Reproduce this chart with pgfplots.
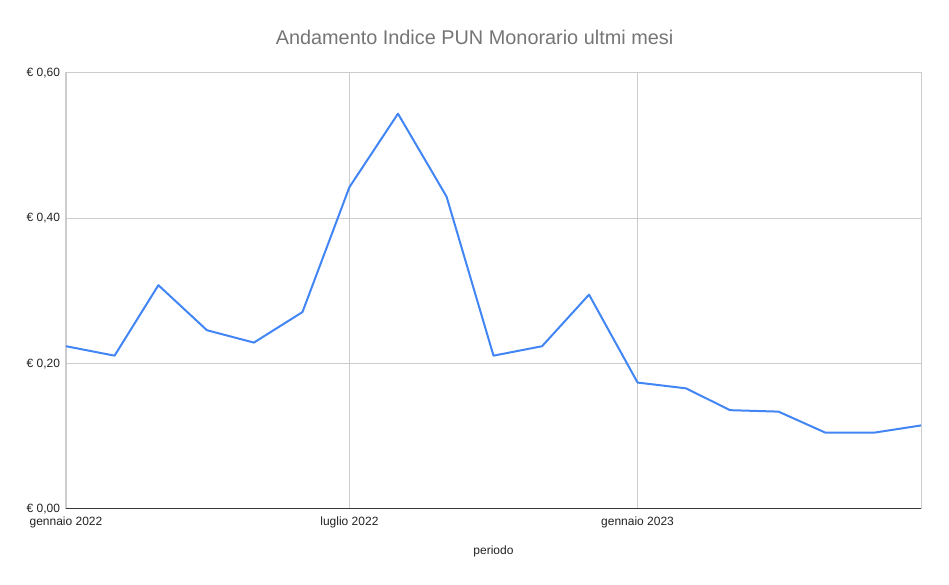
\documentclass[border=0pt]{standalone}
\usepackage{fontspec}
\setmainfont{Liberation Sans}
\usepackage{pgfplots}
\pgfplotsset{compat=1.18}
\definecolor{linecol}{HTML}{4285F4}
\definecolor{gridcol}{HTML}{CCCCCC}
\definecolor{titlecol}{HTML}{757575}
\definecolor{txtcol}{HTML}{222222}
\begin{document}
\begin{tikzpicture}
\path[use as bounding box] (-49.5pt,-57pt) rectangle ++(711.75pt,438.75pt);
\begin{axis}[
  at={(0,0)}, anchor=south west,
  scale only axis,
  width=641.25pt, height=327pt,
  xmin=0, xmax=546, ymin=0, ymax=0.6,
  xtick={0,181,365},
  xticklabels={gennaio 2022,luglio 2022,gennaio 2023},
  ytick={0,0.2,0.4,0.6},
  yticklabels={€ 0{,}00,€ 0{,}20,€ 0{,}40,€ 0{,}60},
  major tick length=0pt,
  grid=major,
  major grid style={gridcol, line width=0.75pt},
  axis line style={gridcol, line width=0.75pt},
  tick label style={font=\fontsize{9}{10}\selectfont, text=txtcol},
  xticklabel style={yshift=-2pt},
  yticklabel style={xshift=-1pt},
  xlabel={periodo},
  xlabel style={font=\fontsize{9}{10}\selectfont, text=txtcol, at={(0.5,0)}, anchor=center, yshift=-31.5pt},
  title={Andamento Indice PUN Monorario ultmi mesi},
  title style={font=\fontsize{14.9}{16}\selectfont, text=titlecol, at={(0.4778,1)}, anchor=center, yshift=21pt},
  clip=false,
]
\addplot[linecol, line width=1.5pt, line join=round] coordinates {
(0,0.224) (31,0.211) (59,0.308) (90,0.246) (120,0.229) (151,0.271)
(181,0.443) (212,0.544) (243,0.430) (273,0.211) (304,0.224) (334,0.295)
(365,0.174) (396,0.166) (424,0.136) (455,0.134) (485,0.105) (516,0.105) (546,0.115)
};
\draw[color=txtcol!90, line width=0.75pt] (rel axis cs:0,0) -- (rel axis cs:1,0);
\end{axis}
\end{tikzpicture}
\end{document}
